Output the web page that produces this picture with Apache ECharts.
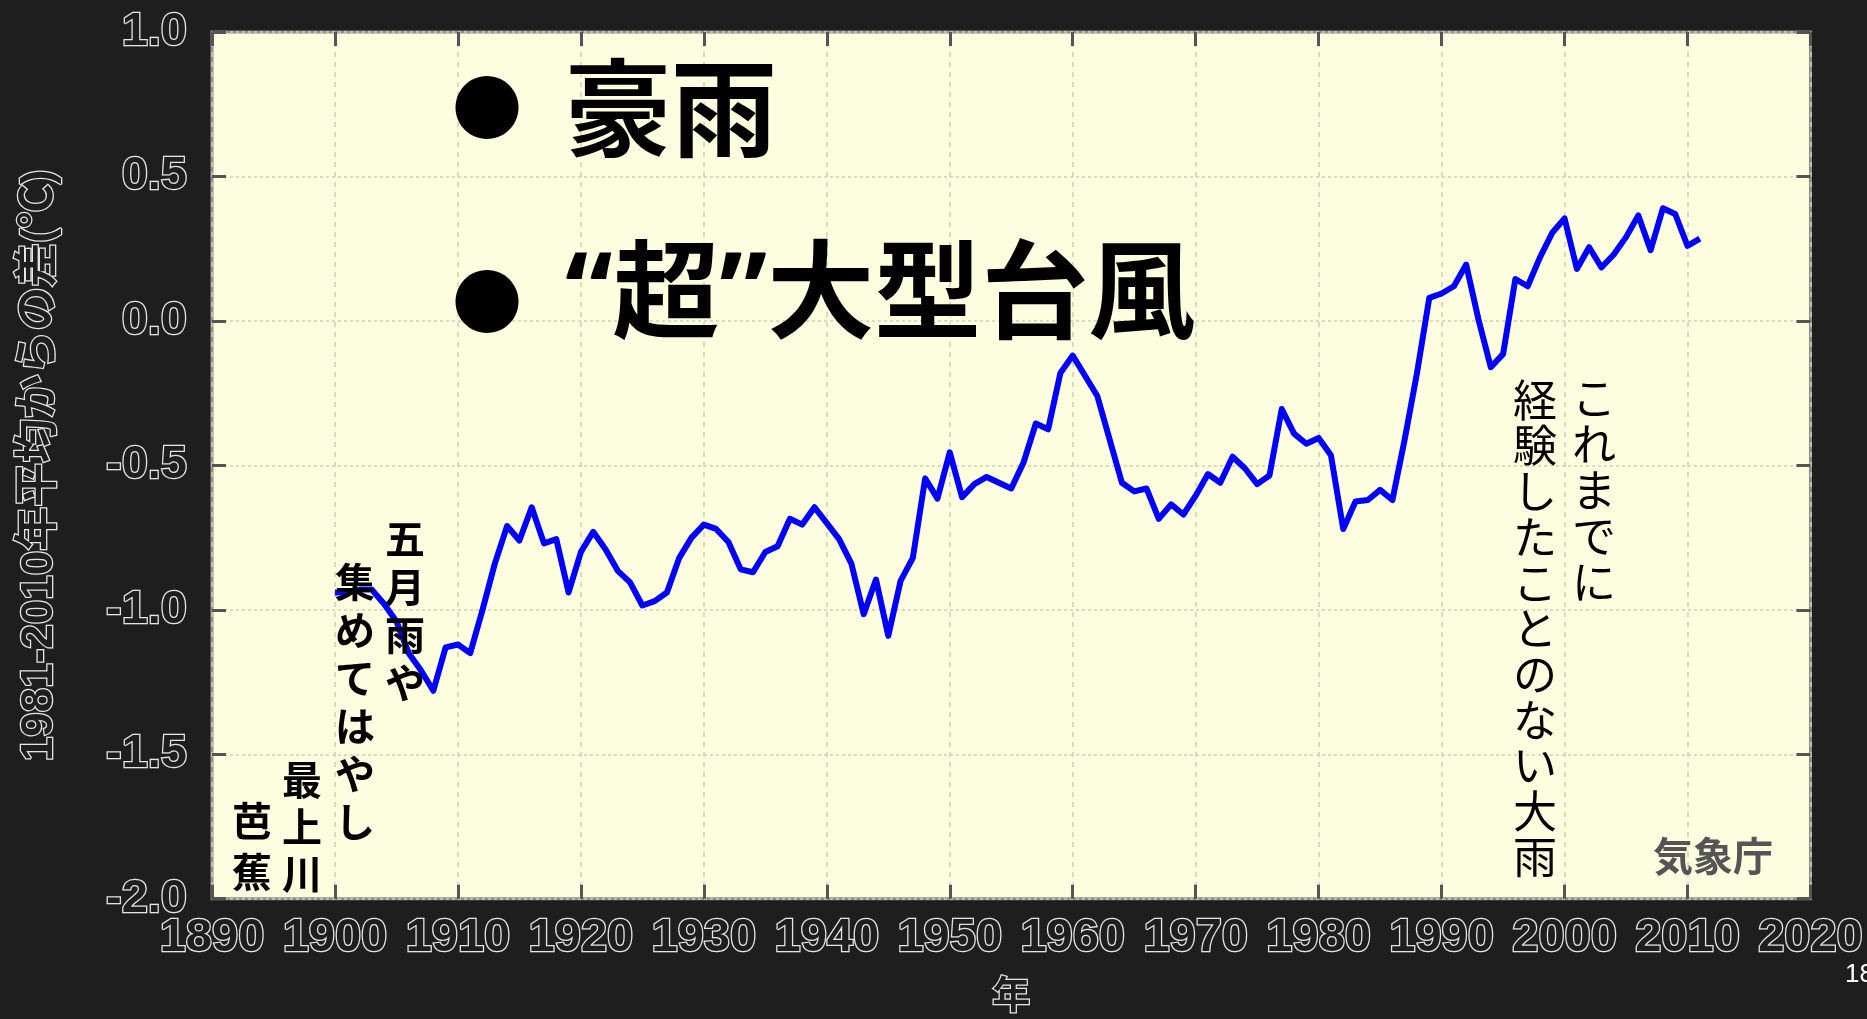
<!DOCTYPE html>
<html><head><meta charset="utf-8">
<script src="https://cdn.jsdelivr.net/npm/echarts@6.0.0/dist/echarts.min.js"></script>
<style>html,body{margin:0;padding:0;background:#1e1e1e;overflow:hidden}#c{width:1867px;height:1019px;}</style>
</head><body><div id="c"></div>
<script>
// Annual series (5-yr running mean) of Japan mean temperature anomaly, 1900-2011, vs 1981-2010 mean (°C)
const firstYear = 1900;
const anomaly = [
  -0.94,-0.94,-0.93,-0.93,-0.98,-1.04,-1.15,-1.21,-1.28,-1.13,
  -1.12,-1.15,-1.00,-0.84,-0.71,-0.76,-0.645,-0.77,-0.755,-0.94,
  -0.80,-0.73,-0.79,-0.865,-0.905,-0.985,-0.97,-0.94,-0.82,-0.75,
  -0.705,-0.72,-0.765,-0.86,-0.87,-0.80,-0.78,-0.685,-0.705,-0.645,
  -0.70,-0.755,-0.84,-1.015,-0.895,-1.09,-0.90,-0.82,-0.545,-0.615,
  -0.455,-0.61,-0.565,-0.54,-0.56,-0.58,-0.49,-0.355,-0.375,-0.18,
  -0.12,-0.19,-0.26,-0.41,-0.56,-0.59,-0.58,-0.685,-0.635,-0.67,
  -0.605,-0.53,-0.56,-0.47,-0.51,-0.565,-0.535,-0.305,-0.39,-0.425,
  -0.405,-0.465,-0.72,-0.625,-0.62,-0.585,-0.62,-0.41,-0.18,0.08,
  0.095,0.12,0.195,0.005,-0.16,-0.115,0.145,0.12,0.22,0.305,
  0.355,0.18,0.255,0.185,0.23,0.29,0.365,0.245,0.39,0.37,
  0.26,0.285
];
const xRange = [1890, 2020];
const yRange = [-2.0, 1.0];
const yAxisTitle = '1981-2010年平均からの差(℃)';
const xAxisTitle = '年';
const bullets = ['豪雨', '“超”大型台風'];
const noteRight1 = 'これまでに';
const noteRight2 = '経験したことのない大雨';
const haikuCols = ['五月雨や', '集めてはやし', '最上川', '芭蕉'];
const source = '気象庁';
const pageNo = '18';

const seriesData = anomaly.map((v, i) => [firstYear + i, v]);

const outline = { color: '#1e1e1e', textBorderColor: '#e4e4e4', textBorderWidth: 2.5 };
const tickStyle = { show: true, inside: true, length: 14, lineStyle: { color: '#555', width: 3 } };
const noLine = { show: false, onZero: false };

const chart = echarts.init(document.getElementById('c'), null, { renderer: 'canvas' });

function col(text, x, firstCenter, lh, size, weight) {
  return {
    type: 'text', z: 100,
    style: {
      text: text.split('').join('\n'), x: x, y: firstCenter - lh / 2,
      textAlign: 'center', textVerticalAlign: 'top', lineHeight: lh,
      font: (weight || 'normal') + ' ' + size + 'px "Noto Sans CJK JP"', fill: '#000'
    }
  };
}

chart.setOption({
  backgroundColor: '#1e1e1e',
  animation: false,
  grid: { left: 212, right: 56, top: 32, bottom: 117, show: true, backgroundColor: '#fdfde0', borderColor: '#8e8e8e', borderWidth: 3 },
  xAxis: [{
    type: 'value', position: 'bottom', min: xRange[0], max: xRange[1], interval: 10,
    axisLine: noLine, axisTick: tickStyle,
    axisLabel: Object.assign({ margin: 16, fontSize: 47, fontWeight: 'bold', fontFamily: 'Liberation Sans', formatter: v => String(v) }, outline),
    splitLine: { show: true, lineStyle: { color: '#d0d0b8', type: [5, 5], width: 1.5 } },
    name: xAxisTitle, nameLocation: 'middle', nameGap: 76,
    nameTextStyle: Object.assign({ fontSize: 38, fontWeight: 'bold', fontFamily: 'Noto Sans CJK JP' }, outline)
  }, {
    type: 'value', position: 'top', min: xRange[0], max: xRange[1], interval: 10,
    axisLine: noLine, axisTick: tickStyle, axisLabel: { show: false }, splitLine: { show: false }
  }],
  yAxis: [{
    type: 'value', position: 'left', min: yRange[0], max: yRange[1], interval: 0.5,
    axisLine: noLine, axisTick: tickStyle,
    axisLabel: Object.assign({ margin: 25, fontSize: 47, fontWeight: 'bold', fontFamily: 'Liberation Sans', formatter: v => v.toFixed(1) }, outline),
    splitLine: { show: true, lineStyle: { color: '#d0d0b8', type: [3, 3], width: 1.5 } },
    name: yAxisTitle, nameLocation: 'middle', nameGap: 150, nameRotate: 90,
    nameTextStyle: Object.assign({ fontSize: 44, fontWeight: 'bold', fontFamily: 'Liberation Sans, "Noto Sans CJK JP"' }, outline)
  }, {
    type: 'value', position: 'right', min: yRange[0], max: yRange[1], interval: 0.5,
    axisLine: noLine, axisTick: tickStyle, axisLabel: { show: false }, splitLine: { show: false }
  }],
  series: [{
    type: 'line', data: seriesData, xAxisIndex: 0, yAxisIndex: 0,
    symbol: 'none', smooth: false,
    lineStyle: { color: '#0000ff', width: 6, join: 'round' }, z: 5
  }],
  graphic: [
    { type: 'text', z: 100, style: { text: '●', x: 487, y: 107, textAlign: 'center', textVerticalAlign: 'middle', font: '70px "Noto Sans CJK JP"', fill: '#000' } },
    { type: 'text', z: 100, style: { text: '●', x: 487, y: 301, textAlign: 'center', textVerticalAlign: 'middle', font: '70px "Noto Sans CJK JP"', fill: '#000' } },
    { type: 'text', z: 100, style: { text: bullets[0], x: 565, y: 108, textAlign: 'left', textVerticalAlign: 'middle', font: 'bold 106px "Noto Sans CJK JP"', fill: '#000' } },
    { type: 'text', z: 100, style: { text: bullets[1], x: 565, y: 300, textAlign: 'left', textVerticalAlign: 'middle', font: 'bold 107px "Noto Sans", "Noto Sans CJK JP"', fill: '#000' } },
    col(noteRight1, 1594, 398, 46, 44),
    col(noteRight2, 1535, 400, 45.7, 44),
    col(haikuCols[0], 405, 539, 48, 40, 'bold'),
    col(haikuCols[1], 355, 582, 48, 40, 'bold'),
    col(haikuCols[2], 302, 780, 47, 40, 'bold'),
    col(haikuCols[3], 252, 821, 51, 40, 'bold'),
    { type: 'text', z: 100, style: { text: source, x: 1713, y: 856, textAlign: 'center', textVerticalAlign: 'middle', font: 'bold 40px "Noto Sans CJK JP"', fill: '#555' } },
    { type: 'text', z: 100, style: { text: pageNo, x: 1845, y: 975, textAlign: 'left', textVerticalAlign: 'middle', font: '26px "Liberation Sans"', fill: '#ffffff' } }
  ]
});
</script>
</body></html>
